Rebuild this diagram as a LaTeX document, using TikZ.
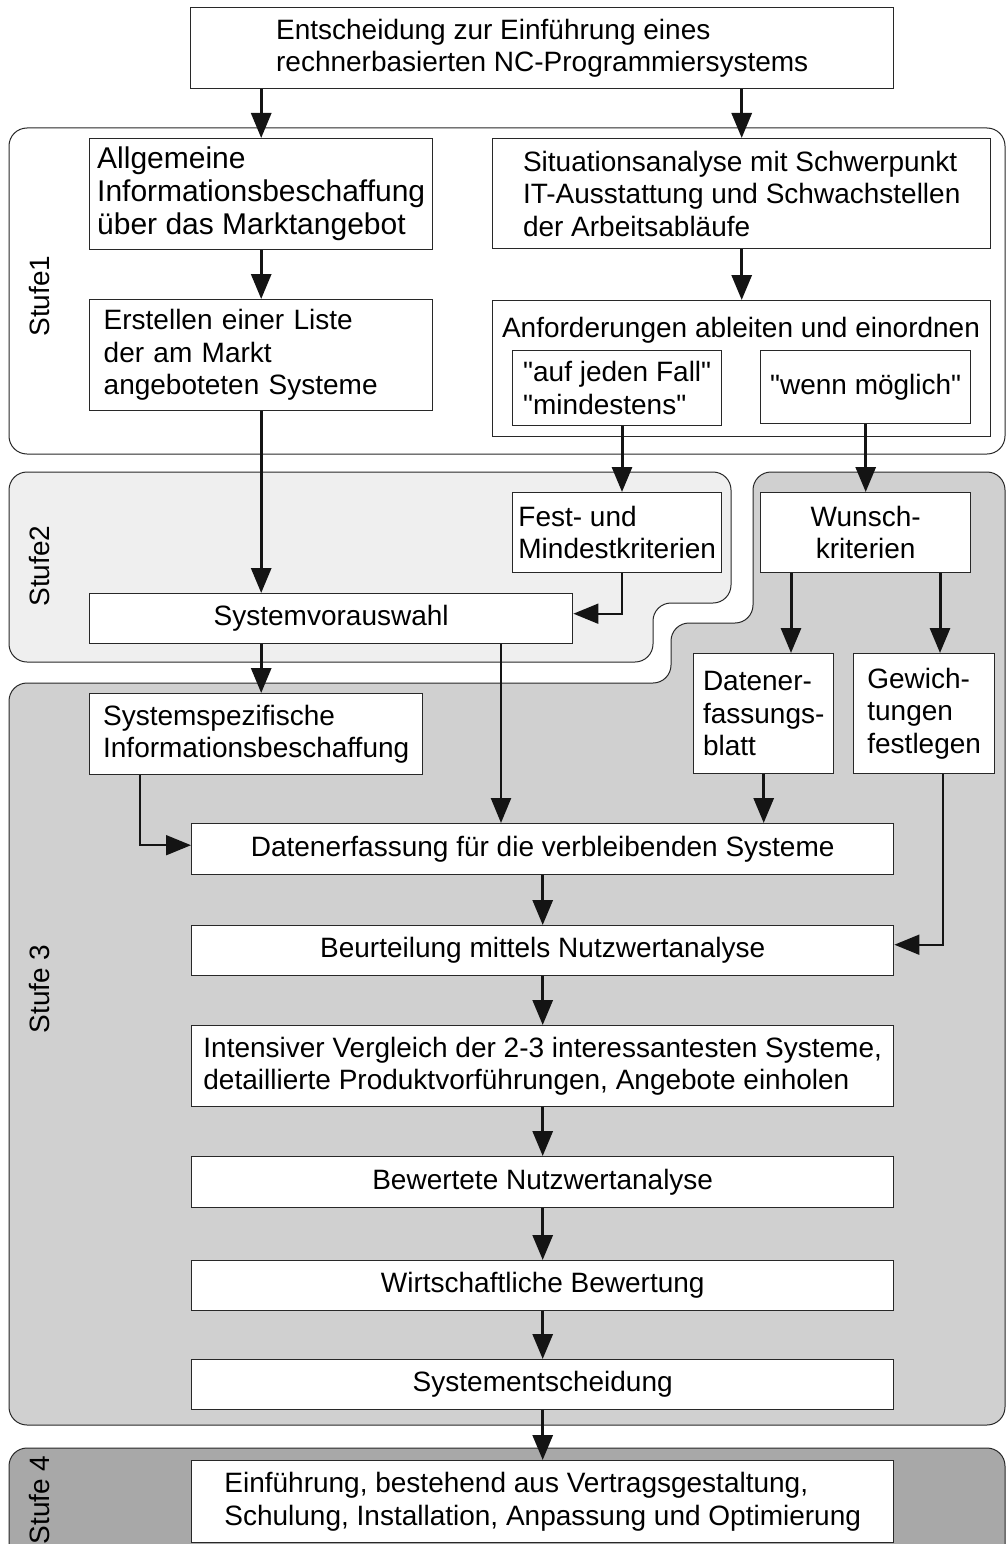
\documentclass[tikz,border=0pt]{standalone}
\usepackage{fontspec}
\setmainfont{Liberation Sans}[Ligatures=TeXOff]
\usetikzlibrary{arrows.meta}
\definecolor{stagetwo}{RGB}{239,239,239}
\definecolor{stagethree}{RGB}{208,208,208}
\definecolor{stagefour}{RGB}{168,168,168}
\definecolor{edge}{RGB}{40,40,40}

\begin{document}
\begin{tikzpicture}[x=1pt,y=-1pt,
  txt/.style={font=\fontsize{28}{32.5}\selectfont},
  box/.style={draw=edge, line width=1.4pt, fill=white, inner sep=0pt, txt, align=left, anchor=north west},
  cbox/.style={box, align=center},
  stage/.style={draw=edge, line width=1pt, rounded corners=18pt},
  stagelabel/.style={txt, rotate=90, anchor=center},
  arr/.style={draw=black!92, line width=3pt, -{Triangle[length=25pt,width=20pt]}},
  elbow/.style={arr, line width=1.8pt},
]
\useasboundingbox (0,0) rectangle (1007,1544);
\clip (0,0) rectangle (1007,1544);

% stage backgrounds
\path[stage, fill=white] (9,128) rectangle (1005,454);
\path[stage, fill=stagetwo] (9,472) -- (731,472) -- (731,603) -- (653,603) -- (653,662) -- (9,662) -- cycle;
\path[stage, fill=stagethree] (9,683) -- (671,683) -- (671,623) -- (753,623) -- (753,472) -- (1005,472) -- (1005,1425) -- (9,1425) -- cycle;
\path[stage, fill=stagefour] (9,1448) rectangle (1005,1590);

% stage labels
\node[stagelabel] (s1) at (40,296) {Stufe1};
\node[stagelabel] (s2) at (40,566) {Stufe2};
\node[stagelabel] (s3) at (40,989) {Stufe 3};
\node[stagelabel] (s4) at (40,1500) {Stufe 4};

% process steps
\node[box, minimum width=703pt, minimum height=81pt] (top) at (190,7) {Entscheidung zur Einführung eines\\rechnerbasierten NC-Programmiersystems};
\node[box, minimum width=343pt, minimum height=111pt, font=\fontsize{30}{33}\selectfont] (allg) at (89,138) {Allgemeine\\Informationsbeschaffung\\über das Marktangebot};
\node[box, minimum width=498pt, minimum height=110pt] (situ) at (492,138) {Situationsanalyse mit Schwerpunkt\\IT-Ausstattung und Schwachstellen\\der Arbeitsabläufe};
\node[box, minimum width=343pt, minimum height=111pt, text width=315pt] (erst) at (89,299) {Erstellen einer Liste\\der am Markt\\angeboteten Systeme};
\node[box, minimum width=498pt, minimum height=136pt] (anf) at (492,300) {};
\node[txt, anchor=base] (anftitle) at (741,337) {Anforderungen ableiten und einordnen};
\node[box, minimum width=209pt, minimum height=75pt] (auf) at (512,350) {"auf jeden Fall"\\"mindestens"};
\node[cbox, minimum width=210pt, minimum height=73pt] (wenn) at (760,350) {"wenn möglich"};
\node[box, minimum width=209pt, minimum height=80pt] (fest) at (512,492) {Fest- und\\Mindestkriterien};
\node[cbox, minimum width=210pt, minimum height=80pt] (wunsch) at (760,492) {Wunsch-\\kriterien};
\node[cbox, minimum width=483pt, minimum height=50pt] (sysv) at (89,593) {Systemvorauswahl};
\node[box, minimum width=333pt, minimum height=81pt] (sysspez) at (89,693) {Systemspezifische\\Informationsbeschaffung};
\node[box, minimum width=140pt, minimum height=120pt] (daten) at (693,653) {Datener-\\fassungs-\\blatt};
\node[box, minimum width=141pt, minimum height=120pt] (gewicht) at (853,653) {Gewich-\\tungen\\festlegen};
\node[cbox, minimum width=702pt, minimum height=51pt] (dfuer) at (191,823) {Datenerfassung für die verbleibenden Systeme};
\node[cbox, minimum width=702pt, minimum height=50pt] (beurt) at (191,925) {Beurteilung mittels Nutzwertanalyse};
\node[box, minimum width=702pt, minimum height=81pt] (intens) at (191,1025) {Intensiver Vergleich der 2-3 interessantesten Systeme,\\detaillierte Produktvorführungen, Angebote einholen};
\node[cbox, minimum width=702pt, minimum height=51pt] (bewert) at (191,1156) {Bewertete Nutzwertanalyse};
\node[cbox, minimum width=702pt, minimum height=50pt] (wirt) at (191,1260) {Wirtschaftliche Bewertung};
\node[cbox, minimum width=702pt, minimum height=50pt] (sysent) at (191,1359) {Systementscheidung};
\node[box, minimum width=702pt, minimum height=82pt] (einf) at (191,1460) {Einführung, bestehend aus Vertragsgestaltung,\\Schulung, Installation, Anpassung und Optimierung};

% columns of the connectors that do not leave a box at its centre
\coordinate (xa) at (622,0);
\coordinate (xb) at (791,0);
\coordinate (xc) at (940,0);
\coordinate (xd) at (501,0);
\coordinate (xf) at (140,0);
\coordinate (xg) at (943,0);

% connectors
\draw[arr] (top.south -| allg.north) -- (allg.north);
\draw[arr] (top.south -| situ.north) -- (situ.north);
\draw[arr] (allg) -- (erst);
\draw[arr] (situ) -- (anf);
\draw[arr] (erst.south) -- (erst.south |- sysv.north);
\draw[arr] (auf.south -| xa) -- (fest.north -| xa);
\draw[arr] (wenn) -- (wunsch);
\draw[elbow] (fest.south -| xa) |- ([yshift=5pt]sysv.east);
\draw[arr] (wunsch.south -| xb) -- (daten.north -| xb);
\draw[arr] (wunsch.south -| xc) -- (gewicht.north -| xc);
\draw[arr] (sysv.south -| allg.south) -- (sysspez.north -| allg.south);
\draw[arr, line width=2.4pt] (sysv.south -| xd) -- (dfuer.north -| xd);
\draw[arr] (daten.south) -- (daten.south |- dfuer.north);
\draw[elbow] (sysspez.south -| xf) |- ([yshift=4pt]dfuer.west);
\draw[elbow] (gewicht.south -| xg) |- ([yshift=6pt]beurt.east);
\draw[arr] (dfuer) -- (beurt);
\draw[arr] (beurt) -- (intens);
\draw[arr] (intens) -- (bewert);
\draw[arr] (bewert) -- (wirt);
\draw[arr] (wirt) -- (sysent);
\draw[arr] (sysent) -- (einf);
\end{tikzpicture}
\end{document}
